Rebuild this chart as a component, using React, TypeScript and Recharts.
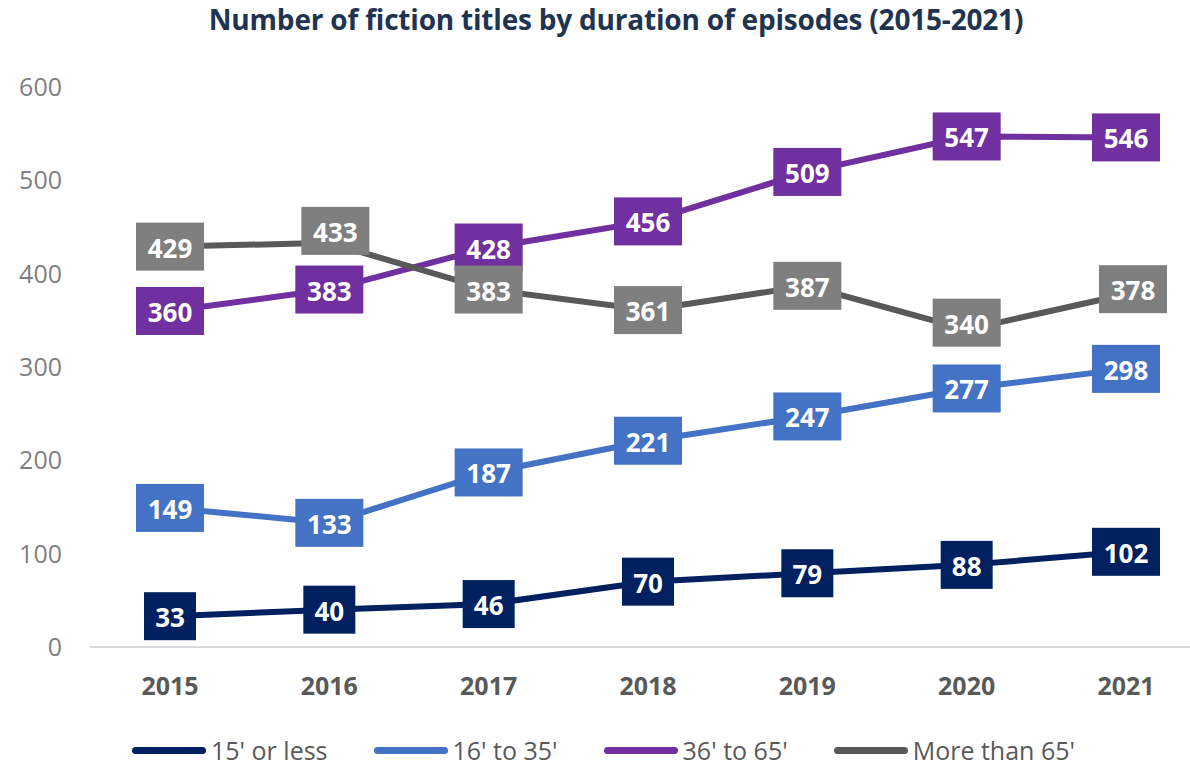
import React from 'react';
import { LineChart, Line, XAxis, YAxis, LabelList } from 'recharts';

const YEARS = ['2015', '2016', '2017', '2018', '2019', '2020', '2021'];
const UP_TO_15 = [33, 40, 46, 70, 79, 88, 102];
const FROM_16_TO_35 = [149, 133, 187, 221, 247, 277, 298];
const FROM_36_TO_65 = [360, 383, 428, 456, 509, 547, 546];
const OVER_65 = [429, 433, 383, 361, 387, 340, 378];
const Y_TICKS = [0, 100, 200, 300, 400, 500, 600];

const SERIES = [
  { key: 'upTo15', name: "15' or less", values: UP_TO_15, line: '#002060', box: '#002060' },
  { key: 'from16', name: "16' to 35'", values: FROM_16_TO_35, line: '#4472C4', box: '#4472C4' },
  { key: 'from36', name: "36' to 65'", values: FROM_36_TO_65, line: '#7030A0', box: '#7030A0' },
  { key: 'over65', name: 'More than 65\'', values: OVER_65, line: '#595959', box: '#7F7F7F' },
];

const data = YEARS.map((year, i) => {
  const row: Record<string, string | number> = { year };
  SERIES.forEach((s) => {
    row[s.key] = s.values[i];
  });
  return row;
});

// a few labels were moved by hand in the original so they don't sit on a line
const LABEL_NUDGE: Record<string, [number, number]> = {
  'over65-1': [6, -12],
  'over65-5': [0, -7],
  'over65-6': [7, -5],
};

const FONT = '"Open Sans", sans-serif';

function makeLabel(seriesKey: string, fill: string) {
  return (props: any) => {
    const { x, y, value, index } = props;
    const [dx, dy] = LABEL_NUDGE[`${seriesKey}-${index}`] || [0, 0];
    const text = String(value);
    const w = text.length * 16 + 20;
    const h = 48;
    const cx = x + dx;
    const cy = y + dy;
    return (
      <g>
        <rect x={cx - w / 2} y={cy - h / 2} width={w} height={h} fill={fill} />
        <text
          x={cx}
          y={cy + 1}
          textAnchor="middle"
          dominantBaseline="central"
          fill="#fff"
          fontFamily={FONT}
          fontWeight={700}
          fontSize={26}
        >
          {text}
        </text>
      </g>
    );
  };
}

export default function App() {
  return (
    <div style={{ position: 'absolute', left: 0, top: 0, width: 1190, height: 768, background: '#fff', fontFamily: FONT }}>
      <div
        style={{
          position: 'absolute',
          top: 0,
          left: 0,
          width: 1232,
          textAlign: 'center',
          fontSize: 28,
          fontWeight: 700,
          color: '#1F3450',
          letterSpacing: -0.2,
        }}
      >
        Number of fiction titles by duration of episodes (2015-2021)
      </div>
      <LineChart width={1190} height={768} data={data} margin={{ top: 87, right: 0, bottom: 91, left: 0 }}>
        <XAxis
          dataKey="year"
          height={30}
          padding={{ left: 80, right: 64 }}
          axisLine={{ stroke: '#D9D9D9', strokeWidth: 2 }}
          tickLine={false}
          tickSize={0}
          tickMargin={30}
          tick={{ fill: '#595959', fontSize: 25, fontWeight: 700, fontFamily: FONT }}
        />
        <YAxis
          domain={[0, 600]}
          ticks={Y_TICKS}
          width={90}
          axisLine={false}
          tickLine={false}
          tickSize={0}
          tickMargin={28}
          tick={{ fill: '#808080', fontSize: 25, fontFamily: FONT }}
        />
        {SERIES.map((s) => (
          <Line
            key={s.key}
            dataKey={s.key}
            stroke={s.line}
            strokeWidth={6}
            dot={false}
            activeDot={false}
            isAnimationActive={false}
          />
        ))}
        {SERIES.map((s) => (
          <Line
            key={`${s.key}-labels`}
            dataKey={s.key}
            stroke="none"
            dot={false}
            activeDot={false}
            legendType="none"
            isAnimationActive={false}
          >
            <LabelList dataKey={s.key} content={makeLabel(s.key, s.box)} />
          </Line>
        ))}
      </LineChart>
      <div
        style={{
          position: 'absolute',
          top: 733,
          left: 132,
          display: 'flex',
          alignItems: 'center',
          gap: 46,
          fontSize: 25,
          lineHeight: '34px',
          color: '#595959',
        }}
      >
        {SERIES.map((s) => (
          <div key={s.key} style={{ display: 'flex', alignItems: 'center' }}>
            <span style={{ display: 'inline-block', width: 74, height: 7, borderRadius: 4, background: s.line, marginRight: 5 }} />
            <span>{s.name}</span>
          </div>
        ))}
      </div>
    </div>
  );
}
